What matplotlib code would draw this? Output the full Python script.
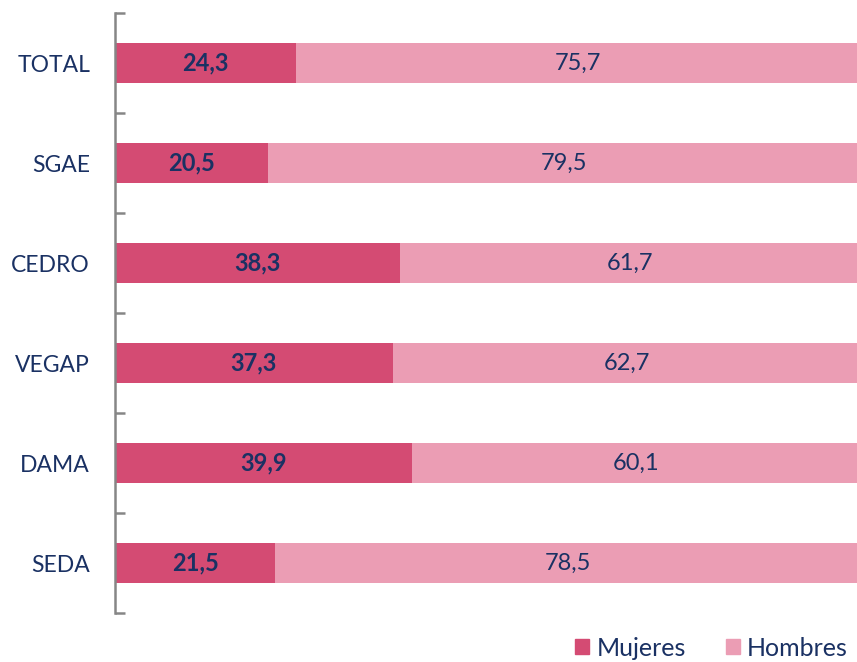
import matplotlib
matplotlib.use("Agg")
import matplotlib.pyplot as plt
from matplotlib.patches import Patch
import numpy as np

# data (%)
categorias = ["TOTAL", "SGAE", "CEDRO", "VEGAP", "DAMA", "SEDA"]
mujeres = [24.3, 20.5, 38.3, 37.3, 39.9, 21.5]
hombres = [75.7, 79.5, 61.7, 62.7, 60.1, 78.5]

COL_M = "#D44B73"
COL_H = "#EB9DB4"
NAVY = "#1A3163"

plt.rcParams["font.family"] = ["Lato", "DejaVu Sans"]

fig = plt.figure(figsize=(8.57, 6.62), dpi=100)
W, H = 857, 662
ax = fig.add_axes([115 / W, 1 - 613 / H, (860 - 115) / W, 600 / H])

y = np.arange(len(categorias))
ax.barh(y, mujeres, height=0.4, color=COL_M, label="Mujeres")
ax.barh(y, hombres, height=0.4, left=mujeres, color=COL_H, label="Hombres")

for i in range(len(categorias)):
    ax.text(mujeres[i] / 2, y[i], f"{mujeres[i]:.1f}".replace(".", ","),
            ha="center", va="center", color=NAVY, fontsize=17, fontweight="bold")
    ax.text(mujeres[i] + hombres[i] / 2, y[i], f"{hombres[i]:.1f}".replace(".", ","),
            ha="center", va="center", color=NAVY, fontsize=17)

ax.set_xlim(0, 100)
ax.set_ylim(len(categorias) - 0.5, -0.5)

for s in ["top", "right", "bottom"]:
    ax.spines[s].set_visible(False)
ax.spines["left"].set_color("#868686")
ax.spines["left"].set_linewidth(1.8)

ax.set_xticks([])
ax.set_yticks(y)
ax.set_yticklabels(categorias, fontsize=16.5, color=NAVY)
ax.tick_params(axis="y", which="major", length=0, pad=18)
ax.set_yticks(np.arange(-0.5, len(categorias)), minor=True)
ax.tick_params(axis="y", which="minor", direction="in", length=7, width=1.8, color="#868686")

handles = [Patch(color=COL_M), Patch(color=COL_H)]
fig.legend(handles, ["Mujeres", "Hombres"], loc="center right", ncol=2,
           bbox_to_anchor=(848 / W, 1 - 648 / H), frameon=False, fontsize=18,
           labelcolor=NAVY, handlelength=0.55, handleheight=0.55,
           handletextpad=0.3, columnspacing=1.6, borderpad=0, borderaxespad=0)

fig.savefig("out.png", dpi=100)
